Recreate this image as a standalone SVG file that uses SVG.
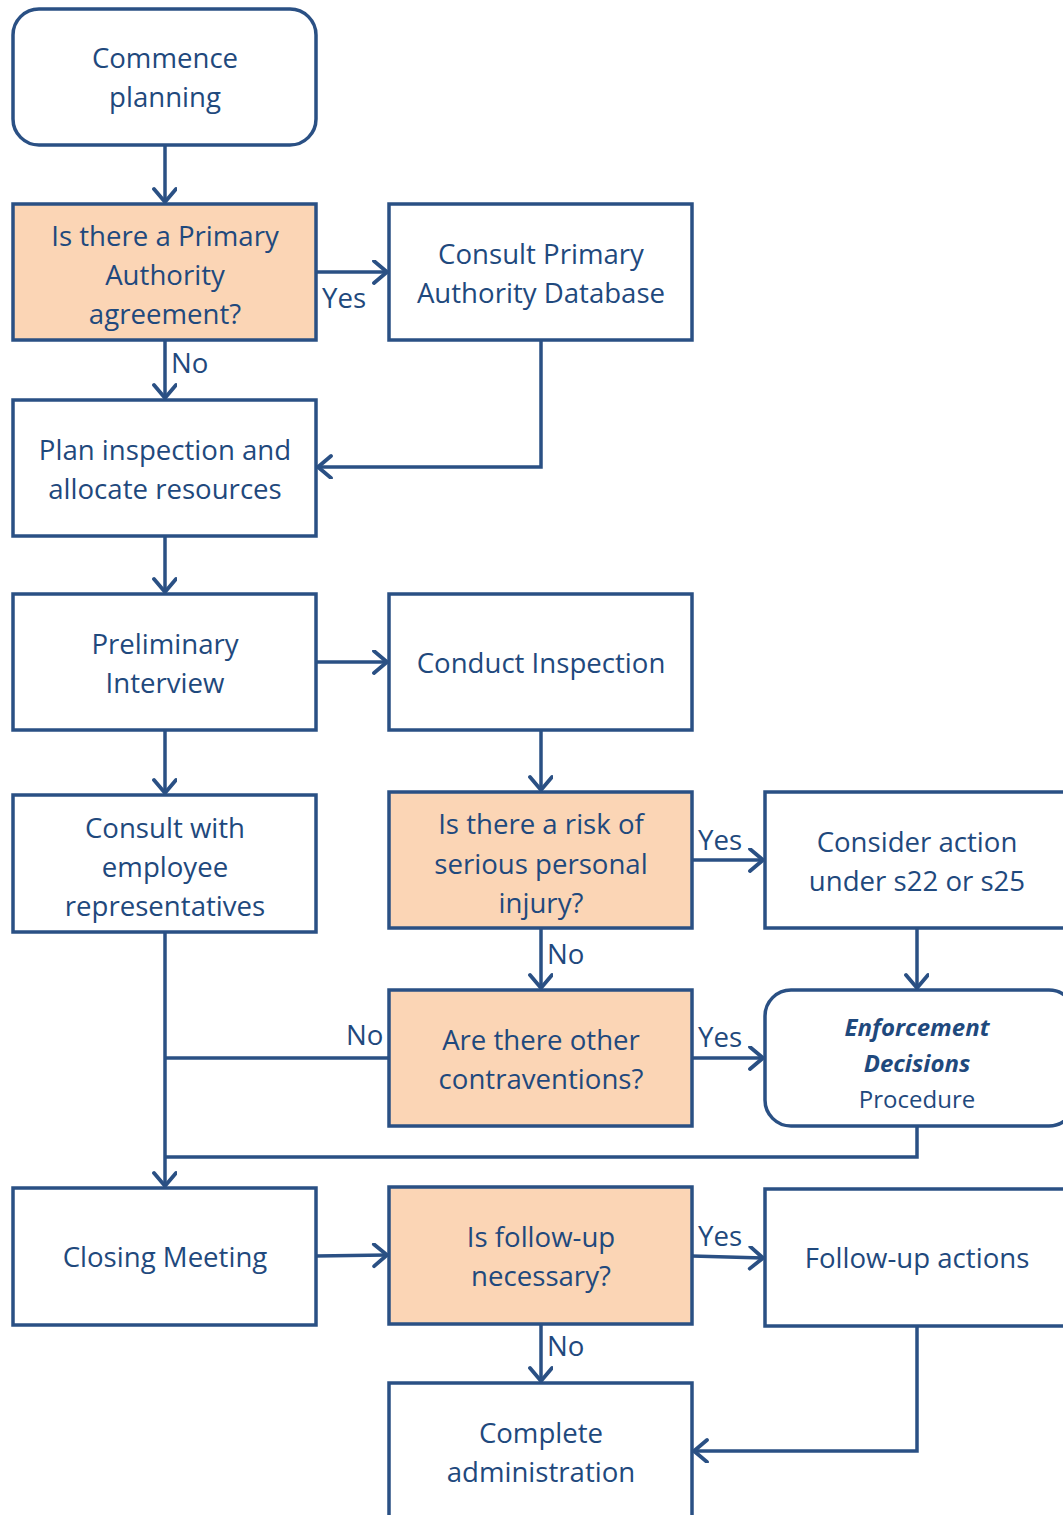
<svg xmlns="http://www.w3.org/2000/svg" width="1063" height="1515" viewBox="0 0 1063 1515">
<style>
.box{fill:#ffffff;stroke:#2a5084;stroke-width:3.5}
.dec{fill:#fbd5b5;stroke:#2a5084;stroke-width:3.5}
text{font-family:"Open Sans","Noto Sans",sans-serif;font-size:27.6px;fill:#1f497d;text-anchor:middle}
.lbl{text-anchor:start}
.sm{font-size:24px}
.bi{font-weight:bold;font-style:italic}
.c{fill:none;stroke:#2a5084;stroke-width:3.5}
</style>
<defs>
<marker id="ah" markerUnits="userSpaceOnUse" markerWidth="30" markerHeight="30" refX="24" refY="12" orient="auto">
<path d="M11,1 L24,12 L11,23" fill="none" stroke="#2a5084" stroke-width="3.8" stroke-linecap="round" stroke-linejoin="round"/>
</marker>
</defs>
<rect width="1063" height="1515" fill="#ffffff"/>
<g id="connectors">
<path class="c" d="M165,145 V202" marker-end="url(#ah)"/>
<path class="c" d="M316,272 H387" marker-end="url(#ah)"/>
<path class="c" d="M165,340 V398" marker-end="url(#ah)"/>
<path class="c" d="M541,340 V467 H318" marker-end="url(#ah)"/>
<path class="c" d="M165,536 V592" marker-end="url(#ah)"/>
<path class="c" d="M316,662 H387" marker-end="url(#ah)"/>
<path class="c" d="M165,730 V793" marker-end="url(#ah)"/>
<path class="c" d="M541,730 V790" marker-end="url(#ah)"/>
<path class="c" d="M692,860 H763" marker-end="url(#ah)"/>
<path class="c" d="M541,928 V988" marker-end="url(#ah)"/>
<path class="c" d="M917,928 V988" marker-end="url(#ah)"/>
<path class="c" d="M692,1058 H763" marker-end="url(#ah)"/>
<path class="c" d="M389,1058 H165"/>
<path class="c" d="M165,932 V1186" marker-end="url(#ah)"/>
<path class="c" d="M917,1126 V1157 H165"/>
<path class="c" d="M316,1256 L387,1255" marker-end="url(#ah)"/>
<path class="c" d="M692,1256 L763,1258" marker-end="url(#ah)"/>
<path class="c" d="M541,1324 V1381" marker-end="url(#ah)"/>
<path class="c" d="M917,1326 V1451 H694" marker-end="url(#ah)"/>
<text class="lbl" x="322" y="308">Yes</text>
<text class="lbl" x="171" y="373">No</text>
<text class="lbl" x="698" y="850">Yes</text>
<text class="lbl" x="547" y="964">No</text>
<text class="lbl" x="698" y="1047">Yes</text>
<text class="lbl" x="346" y="1045">No</text>
<text class="lbl" x="698" y="1246">Yes</text>
<text class="lbl" x="547" y="1356">No</text>
</g>
<g id="n1"><rect class="box" x="13" y="9" width="303" height="136" rx="26"/>
<text x="165" y="68">Commence</text><text x="165" y="107">planning</text></g>
<g id="n2"><rect class="dec" x="13" y="204" width="303" height="136"/>
<text x="165" y="246">Is there a Primary</text><text x="165" y="285">Authority</text><text x="165" y="324">agreement?</text></g>
<g id="n3"><rect class="box" x="389" y="204" width="303" height="136"/>
<text x="541" y="264">Consult Primary</text><text x="541" y="303">Authority Database</text></g>
<g id="n4"><rect class="box" x="13" y="400" width="303" height="136"/>
<text x="165" y="460">Plan inspection and</text><text x="165" y="499">allocate resources</text></g>
<g id="n5"><rect class="box" x="13" y="594" width="303" height="136"/>
<text x="165" y="654">Preliminary</text><text x="165" y="693">Interview</text></g>
<g id="n6"><rect class="box" x="389" y="594" width="303" height="136"/>
<text x="541" y="673">Conduct Inspection</text></g>
<g id="n7"><rect class="box" x="13" y="795" width="303" height="137"/>
<text x="165" y="838">Consult with</text><text x="165" y="877">employee</text><text x="165" y="916">representatives</text></g>
<g id="n8"><rect class="dec" x="389" y="792" width="303" height="136"/>
<text x="541" y="834">Is there a risk of</text><text x="541" y="874">serious personal</text><text x="541" y="913">injury?</text></g>
<g id="n9"><rect class="box" x="765" y="792" width="310" height="136"/>
<text x="917" y="852">Consider action</text><text x="917" y="891">under s22 or s25</text></g>
<g id="n10"><rect class="dec" x="389" y="990" width="303" height="136"/>
<text x="541" y="1050">Are there other</text><text x="541" y="1089">contraventions?</text></g>
<g id="n11"><rect class="box" x="765" y="990" width="310" height="136" rx="26"/>
<text class="sm bi" x="917" y="1036">Enforcement</text><text class="sm bi" x="917" y="1072">Decisions</text><text class="sm" x="917" y="1108">Procedure</text></g>
<g id="n12"><rect class="box" x="13" y="1188" width="303" height="137"/>
<text x="165" y="1267">Closing Meeting</text></g>
<g id="n13"><rect class="dec" x="389" y="1187" width="303" height="137"/>
<text x="541" y="1247">Is follow-up</text><text x="541" y="1286">necessary?</text></g>
<g id="n14"><rect class="box" x="765" y="1189" width="310" height="137"/>
<text x="917" y="1268">Follow-up actions</text></g>
<g id="n15"><rect class="box" x="389" y="1383" width="303" height="140"/>
<text x="541" y="1443">Complete</text><text x="541" y="1482">administration</text></g>
</svg>
